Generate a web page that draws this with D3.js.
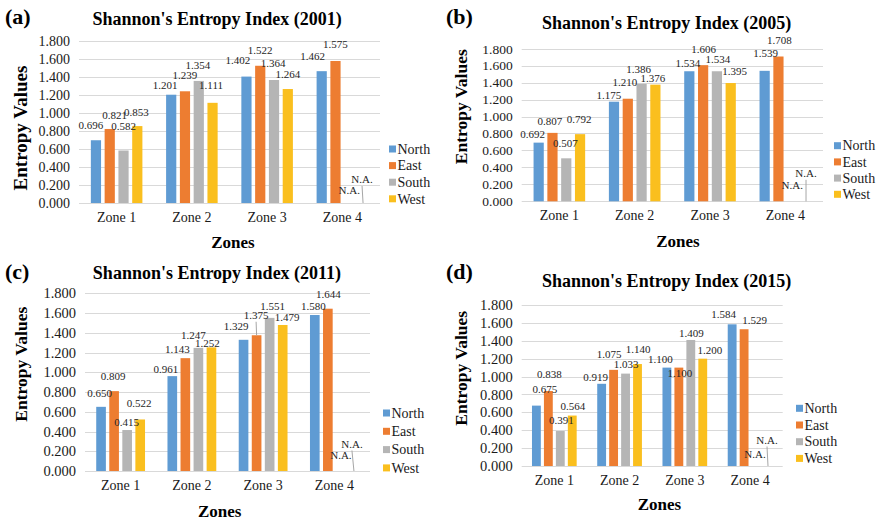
<!DOCTYPE html>
<html>
<head>
<meta charset="utf-8">
<script src="https://cdn.jsdelivr.net/npm/d3@7"></script>
<style>
  body { margin: 0; background: #fff; }
  svg { display: block; font-family: "Liberation Serif", "Times New Roman", serif; }
</style>
</head>
<body>
<div id="chart"></div>
<script>
// data (null = N.A.)
const zones = ["Zone 1", "Zone 2", "Zone 3", "Zone 4"];
const series = ["North", "East", "South", "West"];
const yTicks = [0, 0.2, 0.4, 0.6, 0.8, 1.0, 1.2, 1.4, 1.6, 1.8];

const north2001 = [0.696, 1.201, 1.402, 1.462];
const east2001  = [0.821, 1.239, 1.522, 1.575];
const south2001 = [0.582, 1.354, 1.364, null];
const west2001  = [0.853, 1.111, 1.264, null];

const north2005 = [0.692, 1.175, 1.534, 1.539];
const east2005  = [0.807, 1.210, 1.606, 1.708];
const south2005 = [0.507, 1.386, 1.534, null];
const west2005  = [0.792, 1.376, 1.395, null];

const north2011 = [0.650, 0.961, 1.329, 1.580];
const east2011  = [0.809, 1.143, 1.375, 1.644];
const south2011 = [0.415, 1.247, 1.551, null];
const west2011  = [0.522, 1.252, 1.479, null];

const north2015 = [0.675, 0.919, 1.100, 1.584];
const east2015  = [0.838, 1.075, 1.100, 1.529];
const south2015 = [0.391, 1.033, 1.409, null];
const west2015  = [0.564, 1.140, 1.200, null];

const colors = ["#5f9bd3", "#ed7d31", "#b5b5b5", "#fabf1e"];

// layout of each panel in page pixels, plus hand-placed label nudges [dx, dy] per series/zone
const panels = [
  { tag: "(a)", year: 2001, values: [north2001, east2001, south2001, west2001],
    left: 79, right: 380, top: 40.7, bottom: 203, tickFont: 14, yTitleFont: 19,
    tagX: 5, tagY: 24, titleX: 217, titleY: 25, yTitleX: 27, yTitleY: 128,
    zonesX: 233, zonesY: 248, legX: 389, legY: 149, legStep: 16.6,
    nudge: [[[-5, 0], [-6, 5.5], [-8.5, -1.5], [-9, 0]],
            [[5, 1], [0, -1], [0, -1], [0, -2]],
            [[0, -9.5], [-1, -1], [-1, -2], [0, 1.5]],
            [[-1, 0.5], [-1.5, -2.5], [0, 0], [-1, -9]]],
    leaders: [[3, 3]] },
  { tag: "(b)", year: 2005, values: [north2005, east2005, south2005, west2005],
    left: 521.7, right: 823, top: 48.7, bottom: 201.3, tickFont: 13.5, yTitleFont: 17.5,
    tagX: 446, tagY: 23.5, titleX: 666.7, titleY: 28.5, yTitleX: 467, yTitleY: 106.7,
    zonesX: 678, zonesY: 246.7, legX: 834, legY: 145.7, legStep: 16.2,
    nudge: [[[-6, 6], [-5, 8.5], [-1.5, 6.5], [1, -3]],
            [[-2.5, 3], [-3, -1.5], [0.5, -1], [1, -1.5]],
            [[-1, -0.5], [-3, 0], [1, 3], [0, -1]],
            [[-1, -0.5], [-2.5, 8], [4, 3], [0, -13.5]]],
    leaders: [[3, 3]] },
  { tag: "(c)", year: 2011, values: [north2011, east2011, south2011, west2011],
    left: 85, right: 370, top: 293.3, bottom: 471, tickFont: 14.5, yTitleFont: 17.5,
    tagX: 5, tagY: 278.5, titleX: 217, titleY: 279, yTitleX: 27, yTitleY: 364.2,
    zonesX: 219.7, zonesY: 516.7, legX: 383, legY: 413, legStep: 18.3,
    nudge: [[[-1.5, 1], [-6.5, 8], [-7.5, 1], [-1.5, 6]],
            [[-1, 0], [-8, 5.5], [-0.5, -5.5], [0.5, 0]],
            [[-0.5, 6.5], [-5, 2.5], [3, 3], [0, -1]],
            [[-1, -1], [-4, 11], [4.5, 7], [-2, -12.5]]],
    leaders: [[1, 2], [3, 3]] },
  { tag: "(d)", year: 2015, values: [north2015, east2015, south2015, west2015],
    left: 521.7, right: 782.7, top: 305, bottom: 466, tickFont: 14.5, yTitleFont: 17.5,
    tagX: 446, tagY: 278.5, titleX: 666.7, titleY: 287, yTitleX: 467, yTitleY: 368.3,
    zonesX: 659.5, zonesY: 510, legX: 796, legY: 408.3, legStep: 16.7,
    nudge: [[[8.5, -1.5], [-6, 8], [-6.5, 6.5], [-8.5, 5]],
            [[1, -2.5], [-4.5, -1], [1, 20], [10.5, 6]],
            [[1, 3.5], [0.5, 5], [0.5, 8.5], [-1, 3]],
            [[0.5, 5.5], [0.5, -0.5], [7, 6.5], [-1, -11.5]]],
    leaders: [[3, 3]] }
];

const width = 877, height = 521;
const fmt = d3.format(".3f");

const svg = d3.select("#chart").append("svg")
    .attr("width", width)
    .attr("height", height)
    .attr("viewBox", [0, 0, width, height]);

svg.append("rect").attr("width", width).attr("height", height).attr("fill", "#fff");

panels.forEach(p => {
  const g = svg.append("g");

  const x0 = d3.scaleBand().domain(zones).range([p.left, p.right]).padding(0);
  const x1 = d3.scaleBand().domain(series).range([0, x0.bandwidth()])
      .paddingInner(0.26).paddingOuter(0.86);
  const y = d3.scaleLinear().domain([0, 1.8]).range([p.bottom, p.top]);

  // gridlines
  g.append("g")
    .selectAll("line")
    .data(yTicks)
    .join("line")
      .attr("x1", p.left)
      .attr("x2", p.right)
      .attr("y1", d => Math.round(y(d)) + 0.5)
      .attr("y2", d => Math.round(y(d)) + 0.5)
      .attr("stroke", "#d9d9d9")
      .attr("stroke-width", 1);

  // y axis labels
  g.append("g")
      .attr("transform", `translate(${p.left},0)`)
      .call(d3.axisLeft(y).tickValues(yTicks).tickFormat(fmt).tickSize(0).tickPadding(9))
      .call(a => a.select(".domain").remove())
      .call(a => a.selectAll("text")
        .attr("font-family", "Liberation Serif")
        .attr("font-size", p.tickFont)
        .attr("fill", "#1a1a1a"));

  // x axis labels
  g.append("g")
      .attr("transform", `translate(0,${p.bottom})`)
      .call(d3.axisBottom(x0).tickSize(0).tickPadding(9))
      .call(a => a.select(".domain").remove())
      .call(a => a.selectAll("text")
        .attr("font-family", "Liberation Serif")
        .attr("font-size", 14)
        .attr("fill", "#1a1a1a"));

  // bars
  const cells = [];
  series.forEach((s, si) => {
    zones.forEach((z, zi) => {
      cells.push({ s, si, z, zi, v: p.values[si][zi] });
    });
  });

  g.append("g")
    .selectAll("rect")
    .data(cells.filter(d => d.v !== null))
    .join("rect")
      .attr("x", d => x0(d.z) + x1(d.s))
      .attr("y", d => y(d.v))
      .attr("width", x1.bandwidth())
      .attr("height", d => y(0) - y(d.v))
      .attr("fill", d => colors[d.si]);

  // data labels
  const labelX = d => x0(d.z) + x1(d.s) + x1.bandwidth() / 2 + p.nudge[d.si][d.zi][0];
  const labelY = d => y(d.v === null ? 0 : d.v) - 11 + p.nudge[d.si][d.zi][1];

  g.append("g")
    .selectAll("line")
    .data(cells.filter(d => p.leaders.some(([si, zi]) => si === d.si && zi === d.zi)))
    .join("line")
      .attr("x1", labelX)
      .attr("y1", d => labelY(d) + 3)
      .attr("x2", d => x0(d.z) + x1(d.s) + x1.bandwidth() / 2)
      .attr("y2", d => y(d.v === null ? 0 : d.v))
      .attr("stroke", "#a6a6a6")
      .attr("stroke-width", 1);

  g.append("g")
    .selectAll("text")
    .data(cells)
    .join("text")
      .attr("x", labelX)
      .attr("y", labelY)
      .attr("text-anchor", "middle")
      .attr("font-size", 11)
      .attr("fill", "#262626")
      .text(d => d.v === null ? "N.A." : fmt(d.v));

  // legend
  const leg = g.append("g")
    .selectAll("g")
    .data(series)
    .join("g")
      .attr("transform", (d, i) => `translate(${p.legX},${p.legY + i * p.legStep})`);
  leg.append("rect")
      .attr("x", 0).attr("y", -3.5)
      .attr("width", 7).attr("height", 7)
      .attr("fill", (d, i) => colors[i]);
  leg.append("text")
      .attr("x", 8.5)
      .attr("dy", "0.34em")
      .attr("font-size", 14)
      .attr("fill", "#1a1a1a")
      .text(d => d);

  // titles
  g.append("text")
      .attr("x", p.tagX).attr("y", p.tagY)
      .attr("font-size", 22).attr("font-weight", "bold")
      .text(p.tag);

  g.append("text")
      .attr("x", p.titleX).attr("y", p.titleY)
      .attr("text-anchor", "middle")
      .attr("font-size", 18).attr("font-weight", "bold")
      .text(`Shannon's Entropy Index (${p.year})`);

  g.append("text")
      .attr("transform", `translate(${p.yTitleX},${p.yTitleY}) rotate(-90)`)
      .attr("text-anchor", "middle")
      .attr("font-size", p.yTitleFont).attr("font-weight", "bold")
      .text("Entropy Values");

  g.append("text")
      .attr("x", p.zonesX).attr("y", p.zonesY)
      .attr("text-anchor", "middle")
      .attr("font-size", 17).attr("font-weight", "bold")
      .text("Zones");
});
</script>
</body>
</html>
